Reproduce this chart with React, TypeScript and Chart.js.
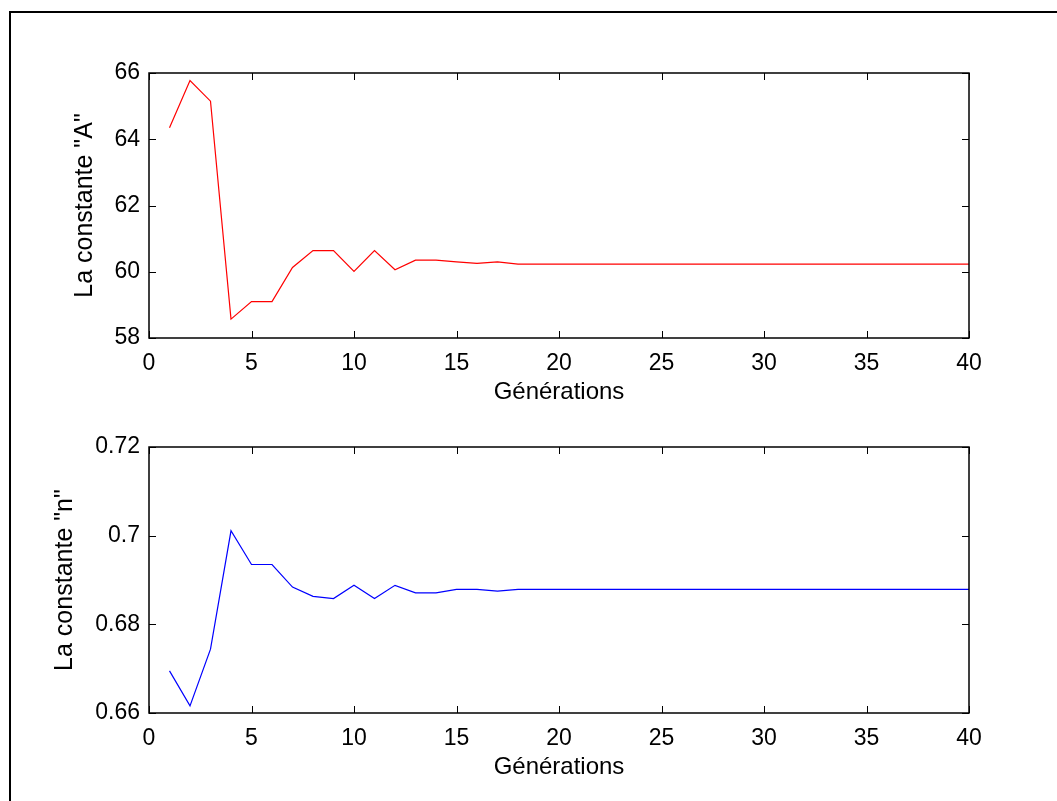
import React, { useEffect, useRef } from "react";
import { Chart, registerables } from "chart.js";

Chart.register(...registerables);

// ---- Data ----
const generations = [
  1, 2, 3, 4, 5, 6, 7, 8, 9, 10, 11, 12, 13, 14, 15, 16, 17, 18, 19, 20,
  21, 22, 23, 24, 25, 26, 27, 28, 29, 30, 31, 32, 33, 34, 35, 36, 37, 38, 39, 40,
];

const constanteA = [
  64.35, 65.77, 65.15, 58.57, 59.1, 59.1, 60.13, 60.64, 60.64, 60.01,
  60.64, 60.06, 60.35, 60.35, 60.3, 60.25, 60.3, 60.23, 60.23, 60.23,
  60.23, 60.23, 60.23, 60.23, 60.23, 60.23, 60.23, 60.23, 60.23, 60.23,
  60.23, 60.23, 60.23, 60.23, 60.23, 60.23, 60.23, 60.23, 60.23, 60.23,
];

const constanteN = [
  0.6695, 0.6616, 0.6744, 0.7011, 0.6935, 0.6935, 0.6884, 0.6863, 0.6858, 0.6888,
  0.6858, 0.6888, 0.6871, 0.6871, 0.6879, 0.6879, 0.6875, 0.6879, 0.6879, 0.6879,
  0.6879, 0.6879, 0.6879, 0.6879, 0.6879, 0.6879, 0.6879, 0.6879, 0.6879, 0.6879,
  0.6879, 0.6879, 0.6879, 0.6879, 0.6879, 0.6879, 0.6879, 0.6879, 0.6879, 0.6879,
];

const xTicks = { min: 0, max: 40, step: 5 };
const yTicksA = { min: 58, max: 66, step: 2 };
const yTicksN = { min: 0.66, max: 0.72, step: 0.02 };

const xTitle = "Générations";
const yTitleA = 'La constante "A"';
const yTitleN = 'La constante "n"';

const FONT = "'Liberation Sans', Arial, Helvetica, sans-serif";
const FS = 23;
const FS_XT = 24;
const FS_YT = 25;

const boxPlugin = {
  id: "matlabBox",
  afterDatasetsDraw(chart: any) {
    const { ctx, chartArea, scales } = chart;
    const { left, right, top, bottom } = chartArea;
    const L = 7;
    ctx.save();
    ctx.strokeStyle = "#000";
    ctx.lineWidth = 1;
    const line = (x1: number, y1: number, x2: number, y2: number) => {
      ctx.beginPath();
      ctx.moveTo(x1, y1);
      ctx.lineTo(x2, y2);
      ctx.stroke();
    };
    scales.x.ticks.forEach((t: any) => {
      const px = Math.round(scales.x.getPixelForValue(t.value)) + 0.5;
      line(px, bottom, px, bottom - L);
      line(px, top, px, top + L);
    });
    scales.y.ticks.forEach((t: any) => {
      const py = Math.round(scales.y.getPixelForValue(t.value)) + 0.5;
      line(left, py, left + L, py);
      line(right, py, right - L, py);
    });
    ctx.lineWidth = 1.5;
    ctx.strokeRect(left, top, right - left, bottom - top);
    ctx.restore();
  },
};

function fmt(v: number) {
  return String(parseFloat(Number(v).toFixed(4)));
}

function makeConfig(
  values: number[],
  color: string,
  yr: { min: number; max: number; step: number },
  yTitle: string,
  yTitlePad: number,
  padTop: number,
  xHeight: number,
  xTitlePadBottom: number
): any {
  return {
    type: "line",
    data: {
      datasets: [
        {
          data: generations.map((g, i) => ({ x: g, y: values[i] })),
          borderColor: color,
          borderWidth: 1.2,
          pointRadius: 0,
          fill: false,
          tension: 0,
        },
      ],
    },
    plugins: [boxPlugin],
    options: {
      responsive: false,
      animation: false,
      devicePixelRatio: 1,
      layout: { padding: { top: padTop, right: 88, left: 0, bottom: 0 } },
      plugins: { legend: { display: false }, tooltip: { enabled: false } },
      scales: {
        x: {
          type: "linear",
          min: xTicks.min,
          max: xTicks.max,
          grid: { display: false, drawTicks: false },
          border: { display: false },
          ticks: {
            stepSize: xTicks.step,
            color: "#000",
            font: { family: FONT, size: FS },
            padding: 12,
            maxRotation: 0,
            autoSkip: false,
          },
          title: {
            display: true,
            text: xTitle,
            color: "#000",
            font: { family: FONT, size: FS_XT },
            padding: { top: 0, bottom: xTitlePadBottom },
          },
          afterFit: (s: any) => {
            s.height = xHeight;
          },
        },
        y: {
          type: "linear",
          min: yr.min,
          max: yr.max,
          grid: { display: false, drawTicks: false },
          border: { display: false },
          ticks: {
            stepSize: yr.step,
            color: "#000",
            font: { family: FONT, size: FS },
            padding: 9,
            callback: (v: any) => fmt(v),
          },
          title: {
            display: true,
            text: yTitle,
            color: "#000",
            font: { family: FONT, size: FS_YT },
            padding: { top: yTitlePad, bottom: 0 },
          },
          afterFit: (s: any) => {
            s.width = 149;
          },
        },
      },
    },
  };
}

function Sub({
  values,
  color,
  yr,
  yTitle,
  yTitlePad,
  top,
  height,
  padTop,
  xHeight,
  xTitlePadBottom,
}: any) {
  const ref = useRef<HTMLCanvasElement>(null);
  useEffect(() => {
    if (!ref.current) return;
    const chart = new Chart(
      ref.current,
      makeConfig(values, color, yr, yTitle, yTitlePad, padTop, xHeight, xTitlePadBottom)
    );
    return () => chart.destroy();
  }, []);
  return (
    <canvas
      ref={ref}
      width={1057}
      height={height}
      style={{ position: "absolute", left: 0, top, width: 1057, height }}
    />
  );
}

export default function App() {
  useEffect(() => {
    document.body.style.margin = "0";
  }, []);
  return (
    <div
      style={{
        position: "fixed",
        left: 0,
        top: 0,
        width: 1057,
        height: 801,
        background: "#fff",
        overflow: "hidden",
      }}
    >
      <div
        style={{
          position: "absolute",
          left: 9,
          top: 11,
          width: 1057,
          height: 801,
          borderLeft: "2px solid #000",
          borderTop: "2px solid #000",
        }}
      />
      <Sub
        values={constanteA}
        color="#ff0000"
        yr={yTicksA}
        yTitle={yTitleA}
        yTitlePad={70}
        top={0}
        height={415}
        padTop={73}
        xHeight={77}
        xTitlePadBottom={8}
      />
      <Sub
        values={constanteN}
        color="#0000ff"
        yr={yTicksN}
        yTitle={yTitleN}
        yTitlePad={50}
        top={415}
        height={386}
        padTop={32}
        xHeight={88}
        xTitlePadBottom={19}
      />
    </div>
  );
}
